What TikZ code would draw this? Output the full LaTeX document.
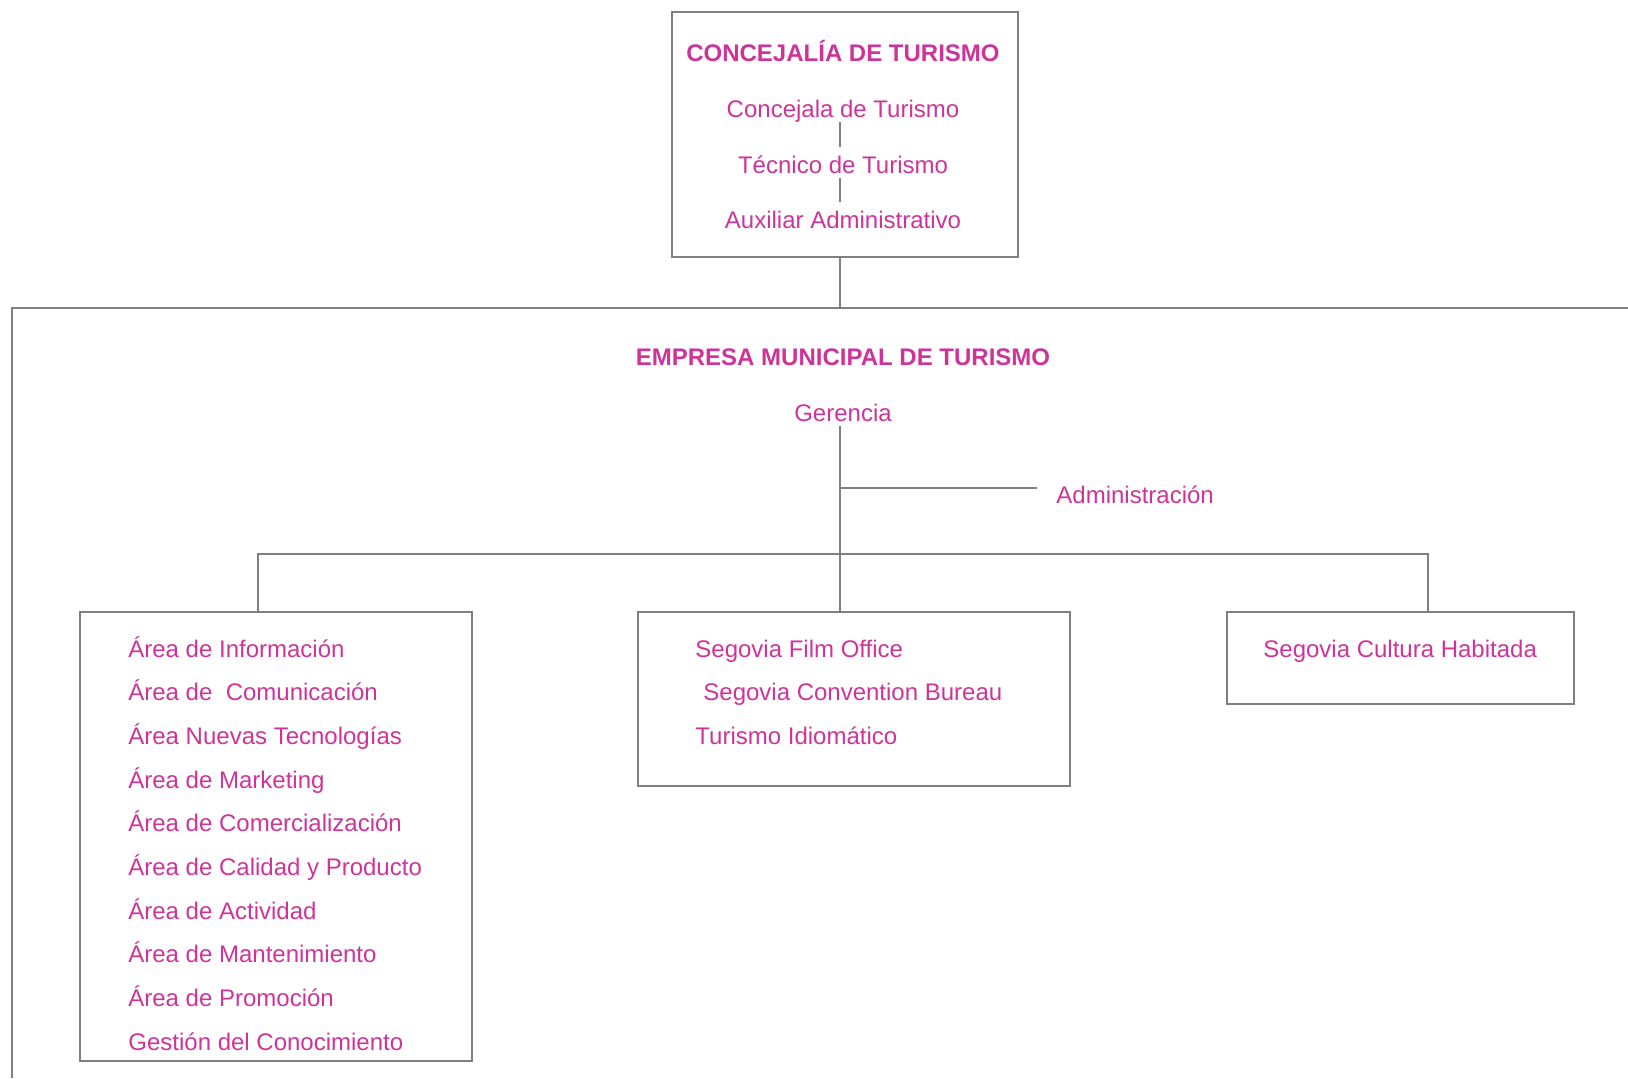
\documentclass[tikz,border=0pt]{standalone}
\usepackage{fontspec}
\setmainfont{Liberation Sans}
\usetikzlibrary{positioning}
\definecolor{turismo}{RGB}{206,52,152}
\definecolor{linea}{RGB}{128,128,128}

\begin{document}
\begin{tikzpicture}[
			x=0.5pt, y=-0.5pt,
			wire/.style = {draw=linea, line width=1pt},
			box/.style = {draw=linea, line width=1pt, rectangle, anchor=north west, inner sep=0pt},
			head/.style = {text=turismo, font=\fontsize{12}{14}\selectfont\bfseries, inner sep=0pt, anchor=base},
			item/.style = {text=turismo, font=\fontsize{12}{14}\selectfont, inner sep=0pt, text height=13pt, text depth=2.5pt, anchor=base},
			entry/.style = {text=turismo, font=\fontsize{12}{14}\selectfont, inner sep=0pt, anchor=base west}
		]
		\useasboundingbox (0,0) rectangle (1628,1078);
		\coordinate (spine) at (840,0);
		% Concejalia box.
		\node[box, minimum width=173pt, minimum height=122.5pt] (concejalia) at (671,11) {};
		\node[head] (ctitle) at (843,61) {CONCEJALÍA DE TURISMO};
		\node[item] (c1) at (843,117) {Concejala de Turismo};
		\node[item] (c2) [below=28pt of c1.base, anchor=base] {Técnico de Turismo};
		\node[item] (c3) [below=27.5pt of c2.base, anchor=base] {Auxiliar Administrativo};
		\draw[wire] (c1.south -| spine) -- (c2.north -| spine);
		\draw[wire] (c2.south -| spine) -- (c3.north -| spine);
		% Empresa frame.
		\coordinate (frameL) at (12,308);
		\coordinate (frameR) at (1628,308);
		\coordinate (frameB) at (12,1078);
		\draw[wire] (frameB) -- (frameL) -- (frameR);
		\draw[wire] (concejalia.south -| spine) -- (spine |- frameL);
		\node[head] (etitle) at (843,365) {EMPRESA MUNICIPAL DE TURISMO};
		\node[item] (ger) at (843,421) {Gerencia};
		\node[entry] (adm) at (1056,503) {Administración};
		\coordinate (admtip) at (1037,488);
		\coordinate (busL) at (258,554);
		\coordinate (busR) at (1428,554);
		% Area boxes.
		\node[box, minimum width=196pt, minimum height=224.5pt] (areas) at (79,611) {};
		\node[box, minimum width=216pt, minimum height=87pt] (segovia) at (637,611) {};
		\node[box, minimum width=173.5pt, minimum height=46pt] (cultura) at (1226,611) {};
		\node[entry] (a1) at (128,657) {Área de Información};
		\node[entry] (a2) [below=21.85pt of a1.base west, anchor=base west] {Área de \ Comunicación};
		\node[entry] (a3) [below=21.85pt of a2.base west, anchor=base west] {Área Nuevas Tecnologías};
		\node[entry] (a4) [below=21.85pt of a3.base west, anchor=base west] {Área de Marketing};
		\node[entry] (a5) [below=21.85pt of a4.base west, anchor=base west] {Área de Comercialización};
		\node[entry] (a6) [below=21.85pt of a5.base west, anchor=base west] {Área de Calidad y Producto};
		\node[entry] (a7) [below=21.85pt of a6.base west, anchor=base west] {Área de Actividad};
		\node[entry] (a8) [below=21.85pt of a7.base west, anchor=base west] {Área de Mantenimiento};
		\node[entry] (a9) [below=21.85pt of a8.base west, anchor=base west] {Área de Promoción};
		\node[entry] (a10) [below=21.85pt of a9.base west, anchor=base west] {Gestión del Conocimiento};
		\node[entry] (s1) at (695,657) {Segovia Film Office};
		\node[entry] (s2) [below=21.85pt of s1.base west, anchor=base west, xshift=4pt] {Segovia Convention Bureau};
		\node[entry] (s3) [below=43.7pt of s1.base west, anchor=base west] {Turismo Idiomático};
		\node[entry] (h1) at (1263,657) {Segovia Cultura Habitada};
		% Gerencia lines.
		\draw[wire] (ger.south -| spine) -- (spine |- segovia.north);
		\draw[wire] (admtip -| spine) -- (admtip);
		\draw[wire] (busL |- areas.north) -- (busL) -- (busR) -- (busR |- cultura.north);
	\end{tikzpicture}
\end{document}
